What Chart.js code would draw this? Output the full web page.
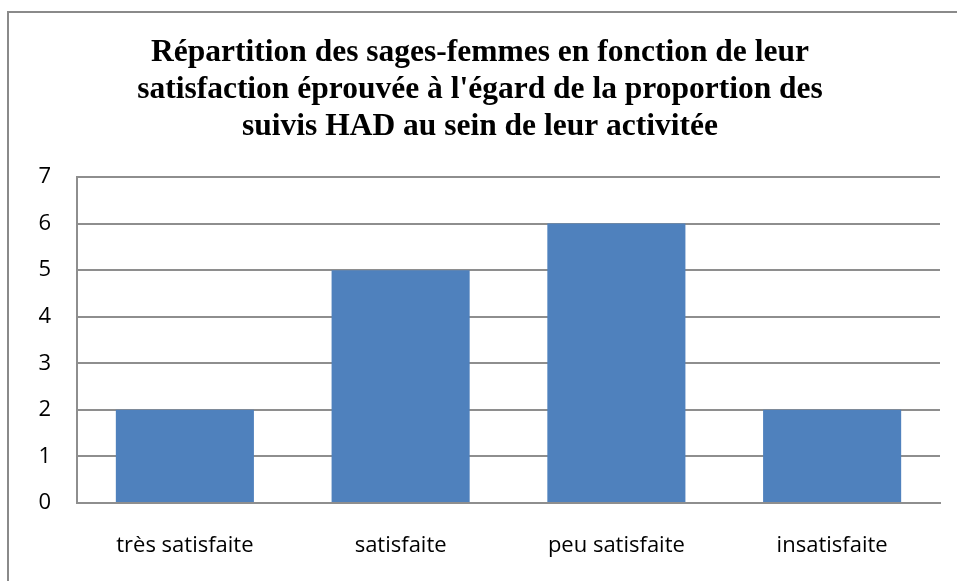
<!DOCTYPE html>
<html lang="fr">
<head>
    <meta charset="UTF-8">
    <title>Répartition des sages-femmes</title>
    <script src="https://cdn.jsdelivr.net/npm/chart.js"></script>
    <style>
        html, body { margin: 0; padding: 0; background: white; }
        #wrap { width: 957px; height: 581px; position: relative; }
    </style>
</head>
<body>
<div id="wrap"><canvas id="chart"></canvas></div>
<script>
    // data
    var categories = ['très satisfaite', 'satisfaite', 'peu satisfaite', 'insatisfaite'];
    var counts = [2, 5, 6, 2];
    var titleLines = [
        'Répartition des sages-femmes en fonction de leur',
        "satisfaction éprouvée à l'égard de la proportion des",
        'suivis HAD au sein de leur activitée'
    ];

    // outer frame of the chart object (only top and left edges are visible)
    var framePlugin = {
        id: 'frame',
        beforeDraw: function(chart) {
            var c = chart.ctx;
            c.save();
            c.fillStyle = 'white';
            c.fillRect(0, 0, chart.width, chart.height);
            c.strokeStyle = '#8a8a8a';
            c.lineWidth = 2;
            c.beginPath();
            c.moveTo(8, chart.height + 5);
            c.lineTo(8, 12);
            c.lineTo(chart.width + 5, 12);
            c.stroke();
            c.restore();
        }
    };

    var tickFont = { family: '"Open Sans", "Noto Sans", sans-serif', size: 22 };

    var ctx = document.getElementById('chart').getContext('2d');
    new Chart(ctx, {
        type: 'bar',
        data: {
            labels: categories,
            datasets: [{
                data: counts,
                backgroundColor: '#4F81BD',
                borderWidth: 0,
                barPercentage: 0.64,
                categoryPercentage: 1.0
            }]
        },
        options: {
            responsive: true,
            maintainAspectRatio: false,
            animation: false,
            layout: { padding: { left: 20, right: 17, top: 0, bottom: 0 } },
            plugins: {
                legend: { display: false },
                tooltip: { enabled: false },
                title: {
                    display: true,
                    text: titleLines,
                    color: '#000',
                    font: { family: '"Liberation Serif", "Times New Roman", serif', size: 31.5, weight: 'bold', lineHeight: 1.175 },
                    padding: { top: 34, bottom: 32 }
                }
            },
            scales: {
                x: {
                    grid: { display: false, drawTicks: false },
                    border: { display: true, color: '#8e8e8e', width: 2 },
                    ticks: {
                        color: '#000',
                        font: tickFont,
                        padding: 30,
                        maxRotation: 0
                    },
                    afterFit: function(s) { s.height = 78; }
                },
                y: {
                    min: 0,
                    max: 7,
                    grid: { color: '#8e8e8e', lineWidth: 2, drawTicks: false },
                    border: { display: true, color: '#8e8e8e', width: 2 },
                    ticks: {
                        stepSize: 1,
                        color: '#000',
                        font: tickFont,
                        padding: 26
                    },
                    afterFit: function(s) { s.width = 57; }
                }
            }
        },
        plugins: [framePlugin]
    });
</script>
</body>
</html>
